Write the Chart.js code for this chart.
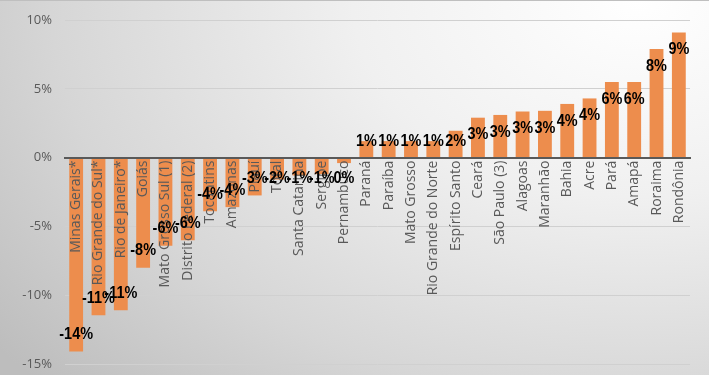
<!DOCTYPE html>
<html>
<head>
<meta charset="utf-8">
<script src="https://cdn.jsdelivr.net/npm/chart.js@4/dist/chart.umd.min.js"></script>
<style>
  html, body { margin: 0; padding: 0; }
  body {
    width: 709px; height: 375px; overflow: hidden;
    background: radial-gradient(ellipse 115% 150% at 90% 0%, #ffffff 0%, #f0f0f0 35%, #d6d6d6 72%, #bdbdbd 100%);
  }
  #wrap { position: relative; width: 709px; height: 375px; box-sizing: border-box; border-top: 1px solid #bfbfbf; }
</style>
</head>
<body>
<div id="wrap"><canvas id="canvas" width="709" height="374"></canvas></div>
<script>
// states sorted by variation
var states = [
  'Minas Gerais*', 'Rio Grande do Sul*', 'Rio de Janeiro*', 'Goiás',
  'Mato Grosso Sul (1)', 'Distrito Federal (2)', 'Tocantins', 'Amazonas',
  'Piauí', 'Total', 'Santa Catarina', 'Sergipe', 'Pernambuco', 'Paraná',
  'Paraíba', 'Mato Grosso', 'Rio Grande do Norte', 'Espírito Santo', 'Ceará',
  'São Paulo (3)', 'Alagoas', 'Maranhão', 'Bahia', 'Acre', 'Pará', 'Amapá',
  'Roraima', 'Rondônia'
];
var variation = [
  -14.1, -11.45, -11.1, -8.0,
  -6.4, -6.0, -3.9, -3.6,
  -2.75, -1.6, -1.3, -1.2, -0.4, 1.2,
  1.2, 1.2, 1.2, 1.95, 2.9,
  3.1, 3.35, 3.4, 3.9, 4.3, 5.5, 5.5,
  7.9, 9.1
];
var yTicks = [-15, -10, -5, 0, 5, 10];

var gray = '#595959';

// labels sit inside the bar end, but never cross the zero line
var barLabels = {
  id: 'barLabels',
  afterDraw: function(chart) {
    var ctx = chart.ctx;
    var meta = chart.getDatasetMeta(0);
    var zero = chart.scales.y.getPixelForValue(0);
    var squeeze = 0.85;
    ctx.save();
    ctx.font = 'bold 17px "Liberation Sans", Arial, sans-serif';
    ctx.fillStyle = '#000';
    ctx.textAlign = 'center';
    ctx.textBaseline = 'middle';
    ctx.scale(squeeze, 1);
    meta.data.forEach(function(bar, i) {
      var v = variation[i];
      var y;
      if (v >= 0) {
        y = Math.min(bar.y + 17, zero - 16);
      } else {
        y = Math.max(bar.y - 17, zero + 21);
      }
      ctx.fillText(Math.round(v) + '%', bar.x / squeeze, y);
    });
    ctx.restore();
  }
};

var ctx = document.getElementById('canvas').getContext('2d');
var chart = new Chart(ctx, {
  type: 'bar',
  data: {
    labels: states,
    datasets: [{
      data: variation,
      backgroundColor: '#ED8D4D',
      borderWidth: 0,
      barPercentage: 0.62,
      categoryPercentage: 1
    }]
  },
  options: {
    responsive: false,
    animation: false,
    events: [],
    layout: { padding: { left: 0, right: 19, top: 19, bottom: 11 } },
    plugins: { legend: { display: false }, tooltip: { enabled: false } },
    scales: {
      x: {
        position: { y: 0 },
        grid: { display: false, drawTicks: false },
        border: { color: gray, width: 2, z: 1 },
        ticks: {
          z: 1,
          color: gray,
          font: { family: '"Open Sans", sans-serif', size: 14 },
          minRotation: 90,
          maxRotation: 90,
          autoSkip: false,
          padding: 3
        }
      },
      y: {
        min: -15,
        max: 10,
        afterBuildTicks: function(scale) {
          scale.ticks = yTicks.map(function(t) { return { value: t }; });
        },
        afterFit: function(scale) {
          scale.width = 65;
          scale.paddingTop = 0;
          scale.paddingBottom = 0;
        },
        grid: { color: '#d0d0d0', lineWidth: 1, drawTicks: false },
        border: { display: false },
        ticks: {
          color: gray,
          font: { family: '"Open Sans", sans-serif', size: 13 },
          padding: 13,
          callback: function(v) { return v + '%'; }
        }
      }
    }
  },
  plugins: [barLabels]
});
</script>
</body>
</html>
